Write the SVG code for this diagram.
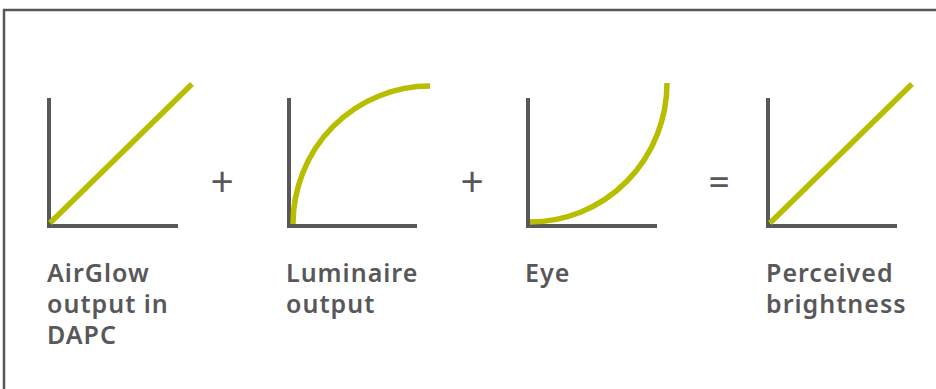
<svg xmlns="http://www.w3.org/2000/svg" width="936" height="389" viewBox="0 0 936 389">
<style>
.axis{fill:none;stroke:#58585a;stroke-width:4}
.curve{fill:none;stroke:#b7be00;stroke-width:5.5}
.lbl{font-family:"Noto Sans","Open Sans",sans-serif;font-weight:600;font-size:25px;letter-spacing:1px;fill:#58585a}
.op{font-family:Lato,"Liberation Sans",sans-serif;font-weight:400;font-size:40px;fill:#58585a;text-anchor:middle}
</style>
<rect width="936" height="389" fill="#fff"/>
<path d="M4,389 V10 H936" fill="none" stroke="#58585a" stroke-width="2.5"/>
<g id="airglow">
<path class="axis" d="M49,98 V226 H178"/>
<path class="curve" d="M50,223 L192,84"/>
<text class="lbl" x="47" y="282">AirGlow</text>
<text class="lbl" x="47" y="313">output in</text>
<text class="lbl" x="47" y="344">DAPC</text>
</g>
<g id="luminaire">
<path class="axis" d="M289,98 V226 H417"/>
<path class="curve" d="M293,224 A137,138 0 0 1 430,86"/>
<text class="lbl" x="286" y="282">Luminaire</text>
<text class="lbl" x="286" y="313">output</text>
</g>
<g id="eye">
<path class="axis" d="M528,98 V226 H657"/>
<path class="curve" d="M530,222 A137,139 0 0 0 667,83"/>
<text class="lbl" x="525" y="282">Eye</text>
</g>
<g id="perceived">
<path class="axis" d="M768,98 V226 H897"/>
<path class="curve" d="M770,223 L912,84"/>
<text class="lbl" x="766" y="282">Perceived</text>
<text class="lbl" x="766" y="313">brightness</text>
</g>
<g id="operators">
<text class="op" x="222" y="196">+</text>
<text class="op" x="472" y="196">+</text>
<text class="op" x="719" y="196">=</text>
</g>
</svg>
